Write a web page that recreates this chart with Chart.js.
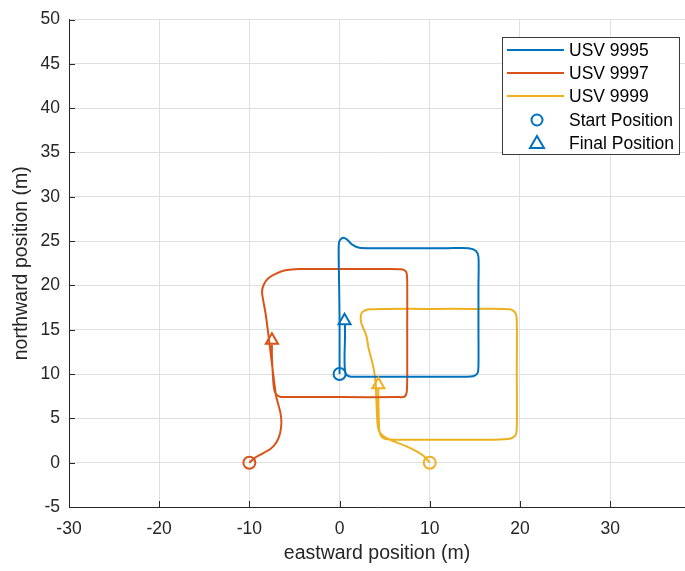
<!DOCTYPE html>
<html>
<head>
<meta charset="utf-8">
<script src="https://cdn.jsdelivr.net/npm/chart.js@4.4.1/dist/chart.umd.min.js"></script>
<style>
  html, body { margin: 0; padding: 0; background: #fff; }
</style>
</head>
<body>
<canvas id="chart_usv" width="685" height="571"></canvas>
<script>
// USV trajectories (m)
var usv9995X = [0, 0, 0, -0.05, -0.1, -0.05, 0.3, 0.8, 1.4, 2.2, 4, 8, 12, 14.3, 15.1, 15.4, 15.4, 15.4, 15.4, 15.3, 14.8, 14, 10, 5, 1.3, 0.8, 0.6, 0.55, 0.6, 0.6];
var usv9995Y = [10, 12, 16, 20, 23.5, 24.9, 25.35, 25.2, 24.6, 24.25, 24.2, 24.2, 24.2, 24.2, 23.9, 23.2, 20, 15, 11, 10.1, 9.75, 9.7, 9.7, 9.7, 9.7, 9.9, 10.4, 12, 14, 15.6];

var usv9997X = [-10, -9.4, -8.6, -7.6, -7.0, -6.6, -6.45, -6.55, -6.8, -7.05, -7.3, -7.6, -7.9, -8.2, -8.5, -8.6, -8.4, -7.9, -7.1, -6, -4.5, 0, 5, 7.0, 7.4, 7.5, 7.5, 7.5, 7.45, 7.2, 6.5, 0, -5, -6.6, -7.1, -7.3, -7.4, -7.5, -7.5];
var usv9997Y = [0, 0.55, 1.0, 1.6, 2.3, 3.3, 4.5, 5.6, 6.6, 7.6, 9.5, 12, 14.5, 16.8, 18.5, 19.3, 20.1, 20.8, 21.3, 21.7, 21.85, 21.85, 21.85, 21.8, 21.5, 20.5, 15, 10, 8.0, 7.45, 7.4, 7.4, 7.4, 7.45, 7.8, 8.6, 10, 12, 13.3];

var usv9999X = [10, 9.4, 8.5, 7.3, 6, 5, 4.4, 4.2, 4.1, 4.0, 3.8, 3.5, 3.2, 3.0, 2.7, 2.4, 2.35, 2.6, 3.3, 5, 10, 15, 18.9, 19.5, 19.65, 19.65, 19.65, 19.5, 18.9, 17, 10, 6, 5.0, 4.6, 4.4, 4.35, 4.3, 4.3];
var usv9999Y = [0, 0.7, 1.3, 1.9, 2.4, 2.9, 3.5, 4.5, 6.5, 9, 10.5, 11.8, 13, 14.2, 15, 15.8, 16.6, 17.05, 17.3, 17.35, 17.35, 17.35, 17.3, 16.9, 16, 10, 4, 3.1, 2.7, 2.6, 2.6, 2.6, 2.7, 3.0, 3.7, 5, 7, 8.3];

var startX = [0, -10, 10];
var startY = [10, 0, 0];
var finalX = [0.55, -7.5, 4.3];
var finalY = [16.0, 13.8, 8.8];

var seriesNames = ['USV 9995', 'USV 9997', 'USV 9999'];
var colors = ['#0072BD', '#D95319', '#EDB120'];

var xTicks = [-30, -20, -10, 0, 10, 20, 30];
var yTicks = [-5, 0, 5, 10, 15, 20, 25, 30, 35, 40, 45, 50];

function toPoints(xs, ys) {
    var pts = [];
    for (let i = 0; i < xs.length; i++) {
        pts.push({x: xs[i], y: ys[i]});
    }
    return pts;
}

var fontFam = "'Liberation Sans', Arial, Helvetica, sans-serif";
var darkText = '#262626';

// MATLAB-like inward ticks
var inwardTicks = {
    id: 'inwardTicks',
    afterDraw: function(chart) {
        var ctx = chart.ctx, a = chart.chartArea;
        var xs = chart.scales.x, ys = chart.scales.y;
        ctx.save();
        ctx.strokeStyle = darkText;
        ctx.lineWidth = 1;
        ctx.beginPath();
        xTicks.forEach(function(v) {
            var p = Math.round(xs.getPixelForValue(v)) + 0.5;
            ctx.moveTo(p, a.bottom);
            ctx.lineTo(p, a.bottom - 6);
        });
        yTicks.forEach(function(v) {
            var p = Math.round(ys.getPixelForValue(v)) + 0.5;
            ctx.moveTo(a.left, p);
            ctx.lineTo(a.left + 6, p);
        });
        ctx.stroke();
        ctx.restore();
    }
};

// legend box inside the axes (top right)
var boxLegend = {
    id: 'boxLegend',
    afterDraw: function(chart) {
        var ctx = chart.ctx;
        var bx = 502.5, by = 37.5, bw = 177, bh = 117;
        ctx.save();
        ctx.fillStyle = '#fff';
        ctx.fillRect(bx, by, bw, bh);
        ctx.strokeStyle = '#3a3a3a';
        ctx.lineWidth = 1;
        ctx.strokeRect(bx, by, bw, bh);
        ctx.font = '17.5px ' + fontFam;
        ctx.textBaseline = 'middle';
        ctx.fillStyle = '#000';
        var rows = [50, 73, 96, 120, 143];
        for (let i = 0; i < 3; i++) {
            ctx.strokeStyle = colors[i];
            ctx.lineWidth = 2;
            ctx.beginPath();
            ctx.moveTo(507, rows[i]);
            ctx.lineTo(564, rows[i]);
            ctx.stroke();
            ctx.fillText(seriesNames[i], 569, rows[i] + 1);
        }
        ctx.strokeStyle = colors[0];
        ctx.lineWidth = 2;
        ctx.beginPath();
        ctx.arc(537, rows[3], 5.5, 0, Math.PI * 2);
        ctx.stroke();
        ctx.beginPath();
        ctx.moveTo(537, rows[4] - 7);
        ctx.lineTo(544, rows[4] + 5);
        ctx.lineTo(530, rows[4] + 5);
        ctx.closePath();
        ctx.stroke();
        ctx.fillText('Start Position', 569, rows[3] + 1);
        ctx.fillText('Final Position', 569, rows[4] + 1);
        ctx.restore();
    }
};

var datasets = [];
var allX = [usv9995X, usv9997X, usv9999X];
var allY = [usv9995Y, usv9997Y, usv9999Y];
for (let k = 0; k < 3; k++) {
    datasets.push({
        label: seriesNames[k],
        data: toPoints(allX[k], allY[k]),
        showLine: true,
        borderColor: colors[k],
        borderWidth: 2,
        pointRadius: 0,
        tension: 0.25,
        order: 2
    });
}
datasets.push({
    label: 'Start Position',
    data: toPoints(startX, startY),
    showLine: false,
    pointStyle: 'circle',
    pointRadius: 6,
    pointBorderWidth: 2,
    pointBorderColor: colors,
    pointBackgroundColor: 'rgba(255,255,255,0)',
    order: 1
});
datasets.push({
    label: 'Final Position',
    data: toPoints(finalX, finalY),
    showLine: false,
    pointStyle: 'triangle',
    pointRadius: 7,
    pointBorderWidth: 2,
    pointBorderColor: colors,
    pointBackgroundColor: 'rgba(255,255,255,0)',
    order: 1
});

const ctu = document.getElementById('chart_usv');
new Chart(ctu, {
    type: 'scatter',
    data: { datasets: datasets },
    options: {
        responsive: false,
        animation: false,
        devicePixelRatio: 1,
        layout: { autoPadding: false, padding: { top: 14, right: 0, left: 0, bottom: 0 } },
        plugins: {
            legend: { display: false },
            tooltip: { enabled: false }
        },
        scales: {
            x: {
                type: 'linear',
                min: -30,
                max: 38.3,
                afterFit: function(s) { s.height = 64; },
                afterBuildTicks: function(s) { s.ticks = xTicks.map(function(v) { return {value: v}; }); },
                ticks: {
                    includeBounds: false,
                    stepSize: 10,
                    padding: 12,
                    color: darkText,
                    font: { family: fontFam, size: 17.5 },
                    maxRotation: 0,
                    callback: function(v) { return String(v); }
                },
                grid: { color: '#dfdfdf', drawTicks: false },
                border: { color: darkText, width: 1 },
                title: {
                    display: true,
                    text: 'eastward position (m)',
                    color: darkText,
                    font: { family: fontFam, size: 19.5 },
                    padding: { top: 0, bottom: 6 }
                }
            },
            y: {
                type: 'linear',
                min: -5,
                max: 50,
                afterFit: function(s) { s.width = 69; },
                afterBuildTicks: function(s) { s.ticks = yTicks.map(function(v) { return {value: v}; }); },
                ticks: {
                    stepSize: 5,
                    padding: 9,
                    color: darkText,
                    font: { family: fontFam, size: 17.5 },
                    callback: function(v) { return String(v); }
                },
                grid: { color: '#dfdfdf', drawTicks: false },
                border: { color: darkText, width: 1 },
                title: {
                    display: true,
                    text: 'northward position (m)',
                    color: darkText,
                    font: { family: fontFam, size: 19.5 },
                    padding: { top: 10, bottom: 0 }
                }
            }
        }
    },
    plugins: [inwardTicks, boxLegend]
});
</script>
</body>
</html>
